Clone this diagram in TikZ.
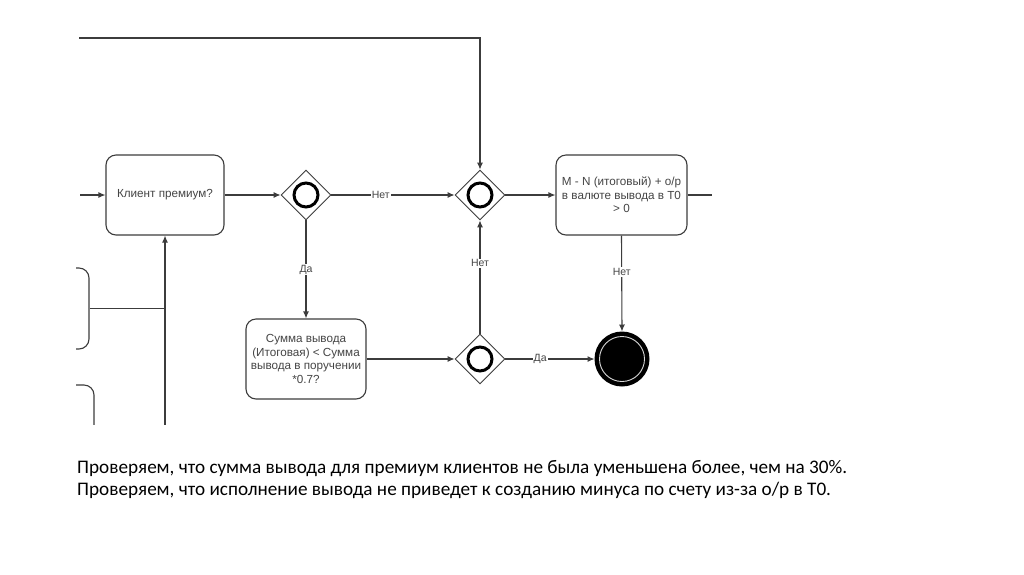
\documentclass[tikz,border=0pt]{standalone}
\usepackage{fontspec}
\setmainfont{Liberation Sans}
\newfontfamily\capfont{Carlito}
\usepackage{xcolor}
\usetikzlibrary{shapes.geometric, arrows.meta, positioning}

\definecolor{linegray}{HTML}{3C3C3C}
\definecolor{textgray}{HTML}{454545}

\begin{document}
\begin{tikzpicture}[
    x=1pt, y=-1pt,
    task/.style={rectangle, rounded corners=10pt, draw=linegray, line width=1.1pt, text=textgray, align=center, font=\fontsize{11.7}{13.5}\selectfont, inner sep=2pt},
    gateway/.style={diamond, draw=linegray, line width=0.9pt, fill=white, minimum size=50pt, inner sep=0pt, aspect=1,
        path picture={\draw[black, line width=3pt] (path picture bounding box.center) circle[radius=12pt];}},
    endevent/.style={circle, draw=black, line width=2pt, fill=black, minimum size=53pt, inner sep=0pt,
        path picture={\draw[white!85!black, line width=0.9pt] (path picture bounding box.center) circle[radius=22.5pt];}},
    arrow/.style={-{Latex[length=7pt, width=6pt]}, draw=linegray, line width=1.1pt},
    plain/.style={draw=linegray, line width=1.1pt},
    flowlabel/.style={fill=white, text=textgray, font=\fontsize{10.5}{12}\selectfont, inner sep=1pt},
    caption/.style={anchor=base west, inner sep=0pt, font=\capfont\fontsize{19.2}{22}\selectfont, text=black},
]
    \useasboundingbox (0,0) rectangle (1024,574);
    \fill[white] (0,0) rectangle (1024,574);

    % tasks
    \node[task, minimum width=118pt, minimum height=80pt] (premium) at (165,195) {Клиент премиум?};
    \node[task, minimum width=131pt, minimum height=80pt] (balance) at (621.5,195) {M - N (итоговый) + о/р\\в валюте вывода в Т0\\> 0};
    \node[task, minimum width=120pt, minimum height=80pt] (amount) at (306,359) {Сумма вывода\\(Итоговая) < Сумма\\вывода в поручении\\*0.7?};

    % gateways and end
    \node[gateway] (gwpremium) at (306,195) {};
    \node[gateway] (gwmerge) at (480,195) {};
    \node[gateway] (gwamount) at (480,359) {};
    \node[endevent] (stop) at (622,359) {};

    % free ends
    \coordinate (topstart) at (79,38);
    \coordinate (instart) at (80,195);
    \coordinate (outend) at (712,195);

    % partly visible part on the left
    \begin{scope}
        \clip (76,0) rectangle (1024,424);
        \node[task, minimum width=129pt, minimum height=81pt] (leftbox1) at (24.5,308.5) {};
        \node[task, minimum width=129pt, minimum height=100pt] (leftbox2) at (29.5,435) {};
        \coordinate (upstart) at (165,440);
        \draw[arrow] (upstart) -- (premium.south);
        \draw[plain] (leftbox1.east) -- (leftbox1.east -| premium.south);
    \end{scope}

    \draw[arrow] (instart) -- (premium.west);
    \draw[arrow] (topstart) -| (gwmerge.north);
    \draw[arrow] (premium.east) -- (gwpremium.west);
    \draw[arrow] (gwpremium.east) -- node[flowlabel, pos=0.4] {Нет} (gwmerge.west);
    \draw[arrow] (gwpremium.south) -- node[flowlabel] {Да} (amount.north);
    \draw[arrow] (gwmerge.east) -- (balance.west);
    \draw[plain] (balance.east) -- (outend);
    \draw[arrow] (balance.south) -- node[flowlabel, pos=0.38] {Нет} (stop.north);
    \draw[arrow] (amount.east) -- (gwamount.west);
    \draw[arrow] (gwamount.north) -- node[flowlabel, pos=0.62] {Нет} (gwmerge.south);
    \draw[arrow] (gwamount.east) -- node[flowlabel, pos=0.39] {Да} (stop.west);

    % caption
    \node[caption] (note1) at (77,473) {Проверяем, что сумма вывода для премиум клиентов не была уменьшена более, чем на 30\%.};
    \node[caption] (note2) at (77,495) {Проверяем, что исполнение вывода не приведет к созданию минуса по счету из-за о/р в Т0.};
\end{tikzpicture}
\end{document}
